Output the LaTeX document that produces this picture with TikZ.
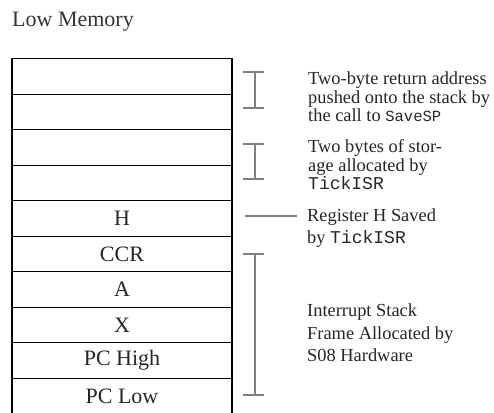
\documentclass[tikz,border=0pt]{standalone}
\usepackage{fontspec}
\setmainfont{Liberation Serif}
\setmonofont{Liberation Mono}
\newcommand{\cellfont}{\fontsize{22}{24}\selectfont}
\newcommand{\notefontA}{\fontsize{18.4}{18.5}\selectfont}
\newcommand{\notefontB}{\fontsize{18.4}{22.5}\selectfont}
\newcommand{\codeA}[1]{{\fontsize{15.5}{15.5}\selectfont\texttt{#1}}}
\newcommand{\codeB}[1]{{\fontsize{18}{18}\selectfont\texttt{#1}}}
\begin{document}
\begin{tikzpicture}[x=1pt,y=-1pt,
  cell/.style={draw=black, line width=1.4pt, minimum width=220pt, minimum height=35.5pt,
     inner sep=0pt, font=\cellfont, text=black!85},
  brk/.style={draw=black!50, line width=1.2pt},
  note/.style={anchor=west, align=left, inner sep=0pt, text=black!85}]
\useasboundingbox (0,0) rectangle (494,412);
\node[anchor=base west, inner sep=0pt, font=\cellfont, text=black!80] (title) at (12,27) {Low Memory};
\foreach \i/\t in {1/{},2/{},3/{},4/{},5/H,6/CCR,7/A,8/X,9/PC High,10/PC Low}{
  \node[cell] (r\i) at (122,{58.7+17.75+35.5*(\i-1)}) {\t};
}
% bracket 1
\coordinate (b1t) at (255,72); \coordinate (b1b) at (255,108);
\draw[brk] (b1t) -- (b1b);
\draw[brk] ([xshift=-12pt]b1t) -- ([xshift=9pt]b1t);
\draw[brk] ([xshift=-12pt]b1b) -- ([xshift=9pt]b1b);
% bracket 2
\coordinate (b2t) at (255,144); \coordinate (b2b) at (255,179);
\draw[brk] (b2t) -- (b2b);
\draw[brk] ([xshift=-12pt]b2t) -- ([xshift=9pt]b2t);
\draw[brk] ([xshift=-12pt]b2b) -- ([xshift=9pt]b2b);
% H line
\coordinate (h1) at (245,216); \coordinate (h2) at (297,216);
\draw[brk] (h1) -- (h2);
% big bracket
\coordinate (b3t) at (255,254); \coordinate (b3b) at (255,395);
\draw[brk] (b3t) -- (b3b);
\draw[brk] ([xshift=-12pt]b3t) -- ([xshift=9pt]b3t);
\draw[brk] ([xshift=-12pt]b3b) -- ([xshift=9pt]b3b);
% notes
\node[note, font=\notefontA] (n1) at (308,97) {Two-byte return address\\pushed onto the stack by\\the call to \codeA{SaveSP}};
\node[note, font=\notefontA] (n2) at (308,165) {Two bytes of stor-\\age allocated by\\\codeB{TickISR}};
\node[note, font=\notefontB] (n3) at (307,228) {Register H Saved\\by \codeB{TickISR}};
\node[note, font=\notefontB] (n4) at (307,333) {Interrupt Stack\\Frame Allocated by\\S08 Hardware};
\end{tikzpicture}
\end{document}
